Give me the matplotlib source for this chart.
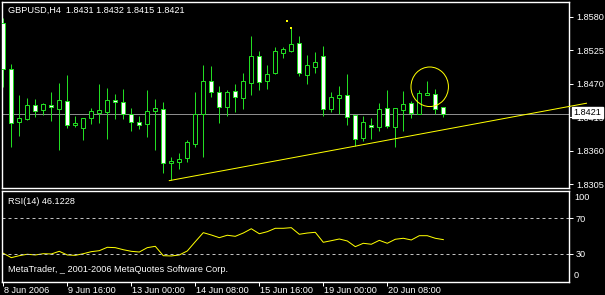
import matplotlib
matplotlib.use('Agg')
import matplotlib.pyplot as plt
from matplotlib.patches import Rectangle, Ellipse
from matplotlib import transforms

# H4 bars (open, high, low, close)
opens = [1.8570, 1.8494, 1.8407, 1.8412, 1.8435, 1.8427, 1.8435, 1.8429, 1.8442, 1.8403,
         1.8398, 1.8413, 1.8422, 1.8424, 1.8443, 1.8440, 1.8421, 1.8407, 1.8404, 1.8426,
         1.8428, 1.8340, 1.8342, 1.8348, 1.8371, 1.8421, 1.8475, 1.8456, 1.8431, 1.8458,
         1.8447, 1.8472, 1.8516, 1.8475, 1.8487, 1.8521, 1.8524, 1.8537, 1.8485, 1.8497,
         1.8515, 1.8429, 1.8447, 1.8451, 1.8418, 1.8381, 1.8403, 1.8399, 1.8430, 1.8399,
         1.8427, 1.8438, 1.8421, 1.8452, 1.8453, 1.8431]
highs = [1.8578, 1.8503, 1.8452, 1.8447, 1.8445, 1.8439, 1.8456, 1.8471, 1.8484, 1.8417,
         1.8414, 1.8430, 1.8470, 1.8463, 1.8453, 1.8461, 1.8430, 1.8417, 1.8459, 1.8445,
         1.8440, 1.8349, 1.8356, 1.8377, 1.8456, 1.8501, 1.8499, 1.8466, 1.8459, 1.8470,
         1.8488, 1.8549, 1.8524, 1.8501, 1.8531, 1.8531, 1.8561, 1.8548, 1.8517, 1.8522,
         1.8532, 1.8456, 1.8466, 1.8486, 1.8418, 1.8417, 1.8414, 1.8438, 1.8460, 1.8430,
         1.8458, 1.8442, 1.8460, 1.8475, 1.8461, 1.8432]
lows = [1.8465, 1.8366, 1.8384, 1.8410, 1.8415, 1.8419, 1.8409, 1.8361, 1.8398, 1.8399,
        1.8377, 1.8404, 1.8405, 1.8380, 1.8412, 1.8412, 1.8393, 1.8396, 1.8383, 1.8361,
        1.8323, 1.8312, 1.8330, 1.8341, 1.8366, 1.8350, 1.8448, 1.8406, 1.8417, 1.8424,
        1.8428, 1.8452, 1.8460, 1.8461, 1.8486, 1.8512, 1.8522, 1.8482, 1.8469, 1.8488,
        1.8417, 1.8424, 1.8421, 1.8403, 1.8368, 1.8376, 1.8380, 1.8393, 1.8398, 1.8366,
        1.8393, 1.8413, 1.8420, 1.8452, 1.8421, 1.8415]
closes = [1.8494, 1.8405, 1.8414, 1.8435, 1.8426, 1.8436, 1.8431, 1.8443, 1.8403, 1.8405,
          1.8414, 1.8425, 1.8427, 1.8443, 1.8440, 1.8421, 1.8408, 1.8403, 1.8425, 1.8430,
          1.8340, 1.8343, 1.8347, 1.8374, 1.8421, 1.8475, 1.8457, 1.8431, 1.8456, 1.8449,
          1.8475, 1.8516, 1.8473, 1.8486, 1.8524, 1.8527, 1.8536, 1.8487, 1.8500, 1.8505,
          1.8429, 1.8448, 1.8451, 1.8416, 1.8380, 1.8407, 1.8399, 1.8428, 1.8401, 1.8430,
          1.8437, 1.8422, 1.8454, 1.8454, 1.8429, 1.8421]

rsi = [30.8, 25.9, 28.1, 29.7, 28.9, 30.3, 30.0, 33.0, 28.9, 28.5,
       30.3, 32.6, 33.7, 37.5, 37.1, 34.8, 33.0, 32.2, 37.1, 38.6,
       28.1, 27.8, 28.9, 33.4, 43.8, 53.9, 51.3, 48.3, 51.0, 49.8,
       53.5, 58.3, 52.7, 55.0, 58.8, 58.8, 59.5, 52.1, 53.5, 54.3,
       43.1, 44.9, 46.8, 44.6, 38.2, 42.0, 40.9, 45.3, 42.0, 46.5,
       47.6, 45.7, 50.5, 50.5, 47.6, 46.1]

price_ticks = [1.8305, 1.8360, 1.8415, 1.8470, 1.8525, 1.8580]
date_ticks = [0, 8, 16, 24, 32, 40, 48]
date_labels = ['8 Jun 2006', '9 Jun 16:00', '13 Jun 00:00', '14 Jun 08:00',
               '15 Jun 16:00', '19 Jun 00:00', '20 Jun 08:00']

# trend line and the small marks drawn on the chart
tl_x = [20.75, 72.9]
tl_y = [1.8311, 1.8438]
marks_x = [35.5, 35.9]
marks_y = [1.8573, 1.8561]
circle_center = (53.3, 1.8465)
last_price = 1.8421

GREEN = '#22dd22'
YELLOW = '#ffff00'
FONT = 'Liberation Sans'
FS = 6.6
PX = 0.72  # one pixel in points at dpi 100

plt.rcParams['font.family'] = [FONT, 'DejaVu Sans']

W, H = 605, 295
fig = plt.figure(figsize=(W / 100, H / 100), dpi=100, facecolor='black')
ax = fig.add_axes([2 / W, (H - 188) / H, 567 / W, 186 / H], facecolor='black')
ax2 = fig.add_axes([2 / W, (H - 282) / H, 567 / W, 91 / H], facecolor='black')

xlim = (-0.16, 70.71)

# candles
for i in range(len(opens)):
    o, hi, lo, c = opens[i], highs[i], lows[i], closes[i]
    ax.plot([i, i], [lo, hi], color=GREEN, lw=PX, zorder=2, solid_capstyle='butt')
    bottom = min(o, c)
    height = max(abs(c - o), 0.00002)
    face = 'white' if c < o else 'black'
    ax.add_patch(Rectangle((i - 0.25, bottom), 0.5, height, facecolor=face,
                           edgecolor=GREEN, lw=PX, zorder=3))

ax.axhline(last_price, color='#8c8c8c', lw=PX, zorder=1)
ax.plot(tl_x, tl_y, color=YELLOW, lw=PX, zorder=4, clip_on=False)
ax.scatter(marks_x, marks_y, s=1.5, color=YELLOW, marker='s', lw=0, zorder=4)
ax.add_patch(Ellipse(circle_center, 4.68, 0.00649, fill=False, edgecolor=YELLOW,
                     lw=PX, zorder=4))

ax.set_xlim(*xlim)
ax.set_ylim(1.82989, 1.86041)
ax.set_xticks([])
ax.yaxis.tick_right()
ax.set_yticks(price_ticks)
ax.set_yticklabels([f'{p:.4f}' for p in price_ticks])
ax.tick_params(axis='y', colors='white', labelcolor='white', length=3, width=PX,
               pad=2, labelsize=FS, direction='out')

ax.text(6.5 / 567, 1 - 8 / 186, 'GBPUSD,H4  1.8431 1.8432 1.8415 1.8421',
        transform=ax.transAxes, color='white', fontsize=FS, va='center', ha='left')

# current price box on the axis
trans = transforms.blended_transform_factory(ax.transAxes, ax.transData)
ax.text(1 + 4.5 / 567, last_price + 0.00018, f'{last_price:.4f}', transform=trans,
        color='black', fontsize=FS, va='center', ha='left', zorder=10,
        bbox=dict(boxstyle='square,pad=0.15', facecolor='white', edgecolor='white'))

# RSI pane
x_idx = list(range(len(rsi)))
ax2.plot(x_idx, rsi, color=YELLOW, lw=PX)
for lvl in [70, 30]:
    ax2.axhline(lvl, color='#c0c0c0', lw=PX, dashes=(3, 3))
ax2.set_xlim(*xlim)
ax2.set_ylim(-1.4, 100.6)
ax2.yaxis.tick_right()
ax2.set_yticks([70, 30])
ax2.set_yticklabels(['70', '30'])
ax2.tick_params(axis='y', colors='white', labelcolor='white', length=3, width=PX,
                pad=2, labelsize=FS)
ax2.text(1 + 5 / 567, (282 - 197) / 91, '100', transform=ax2.transAxes,
         color='white', fontsize=FS, va='center', ha='left')
ax2.text(1 + 5 / 567, (282 - 275) / 91, '0', transform=ax2.transAxes,
         color='white', fontsize=FS, va='center', ha='left')

ax2.set_xticks(date_ticks)
ax2.set_xticklabels(date_labels)
ax2.tick_params(axis='x', colors='white', labelcolor='white', length=3, width=PX,
                pad=0, labelsize=FS)
for lab in ax2.get_xticklabels():
    lab.set_ha('left')
    lab.set_transform(lab.get_transform() + transforms.ScaledTranslation(1 / 100, 0, fig.dpi_scale_trans))

ax2.text(5.5 / 567, 1 - 10 / 91, 'RSI(14) 46.1228', transform=ax2.transAxes,
         color='white', fontsize=FS, va='center', ha='left')
ax2.text(5.5 / 567, 1 - 79 / 91, 'MetaTrader, _ 2001-2006 MetaQuotes Software Corp.',
         transform=ax2.transAxes, color='white', fontsize=FS, va='center', ha='left')

for a in (ax, ax2):
    for sp in a.spines.values():
        sp.set_color('white')
        sp.set_linewidth(PX * 1.4)

fig.savefig('out.png', dpi=100, facecolor='black')
